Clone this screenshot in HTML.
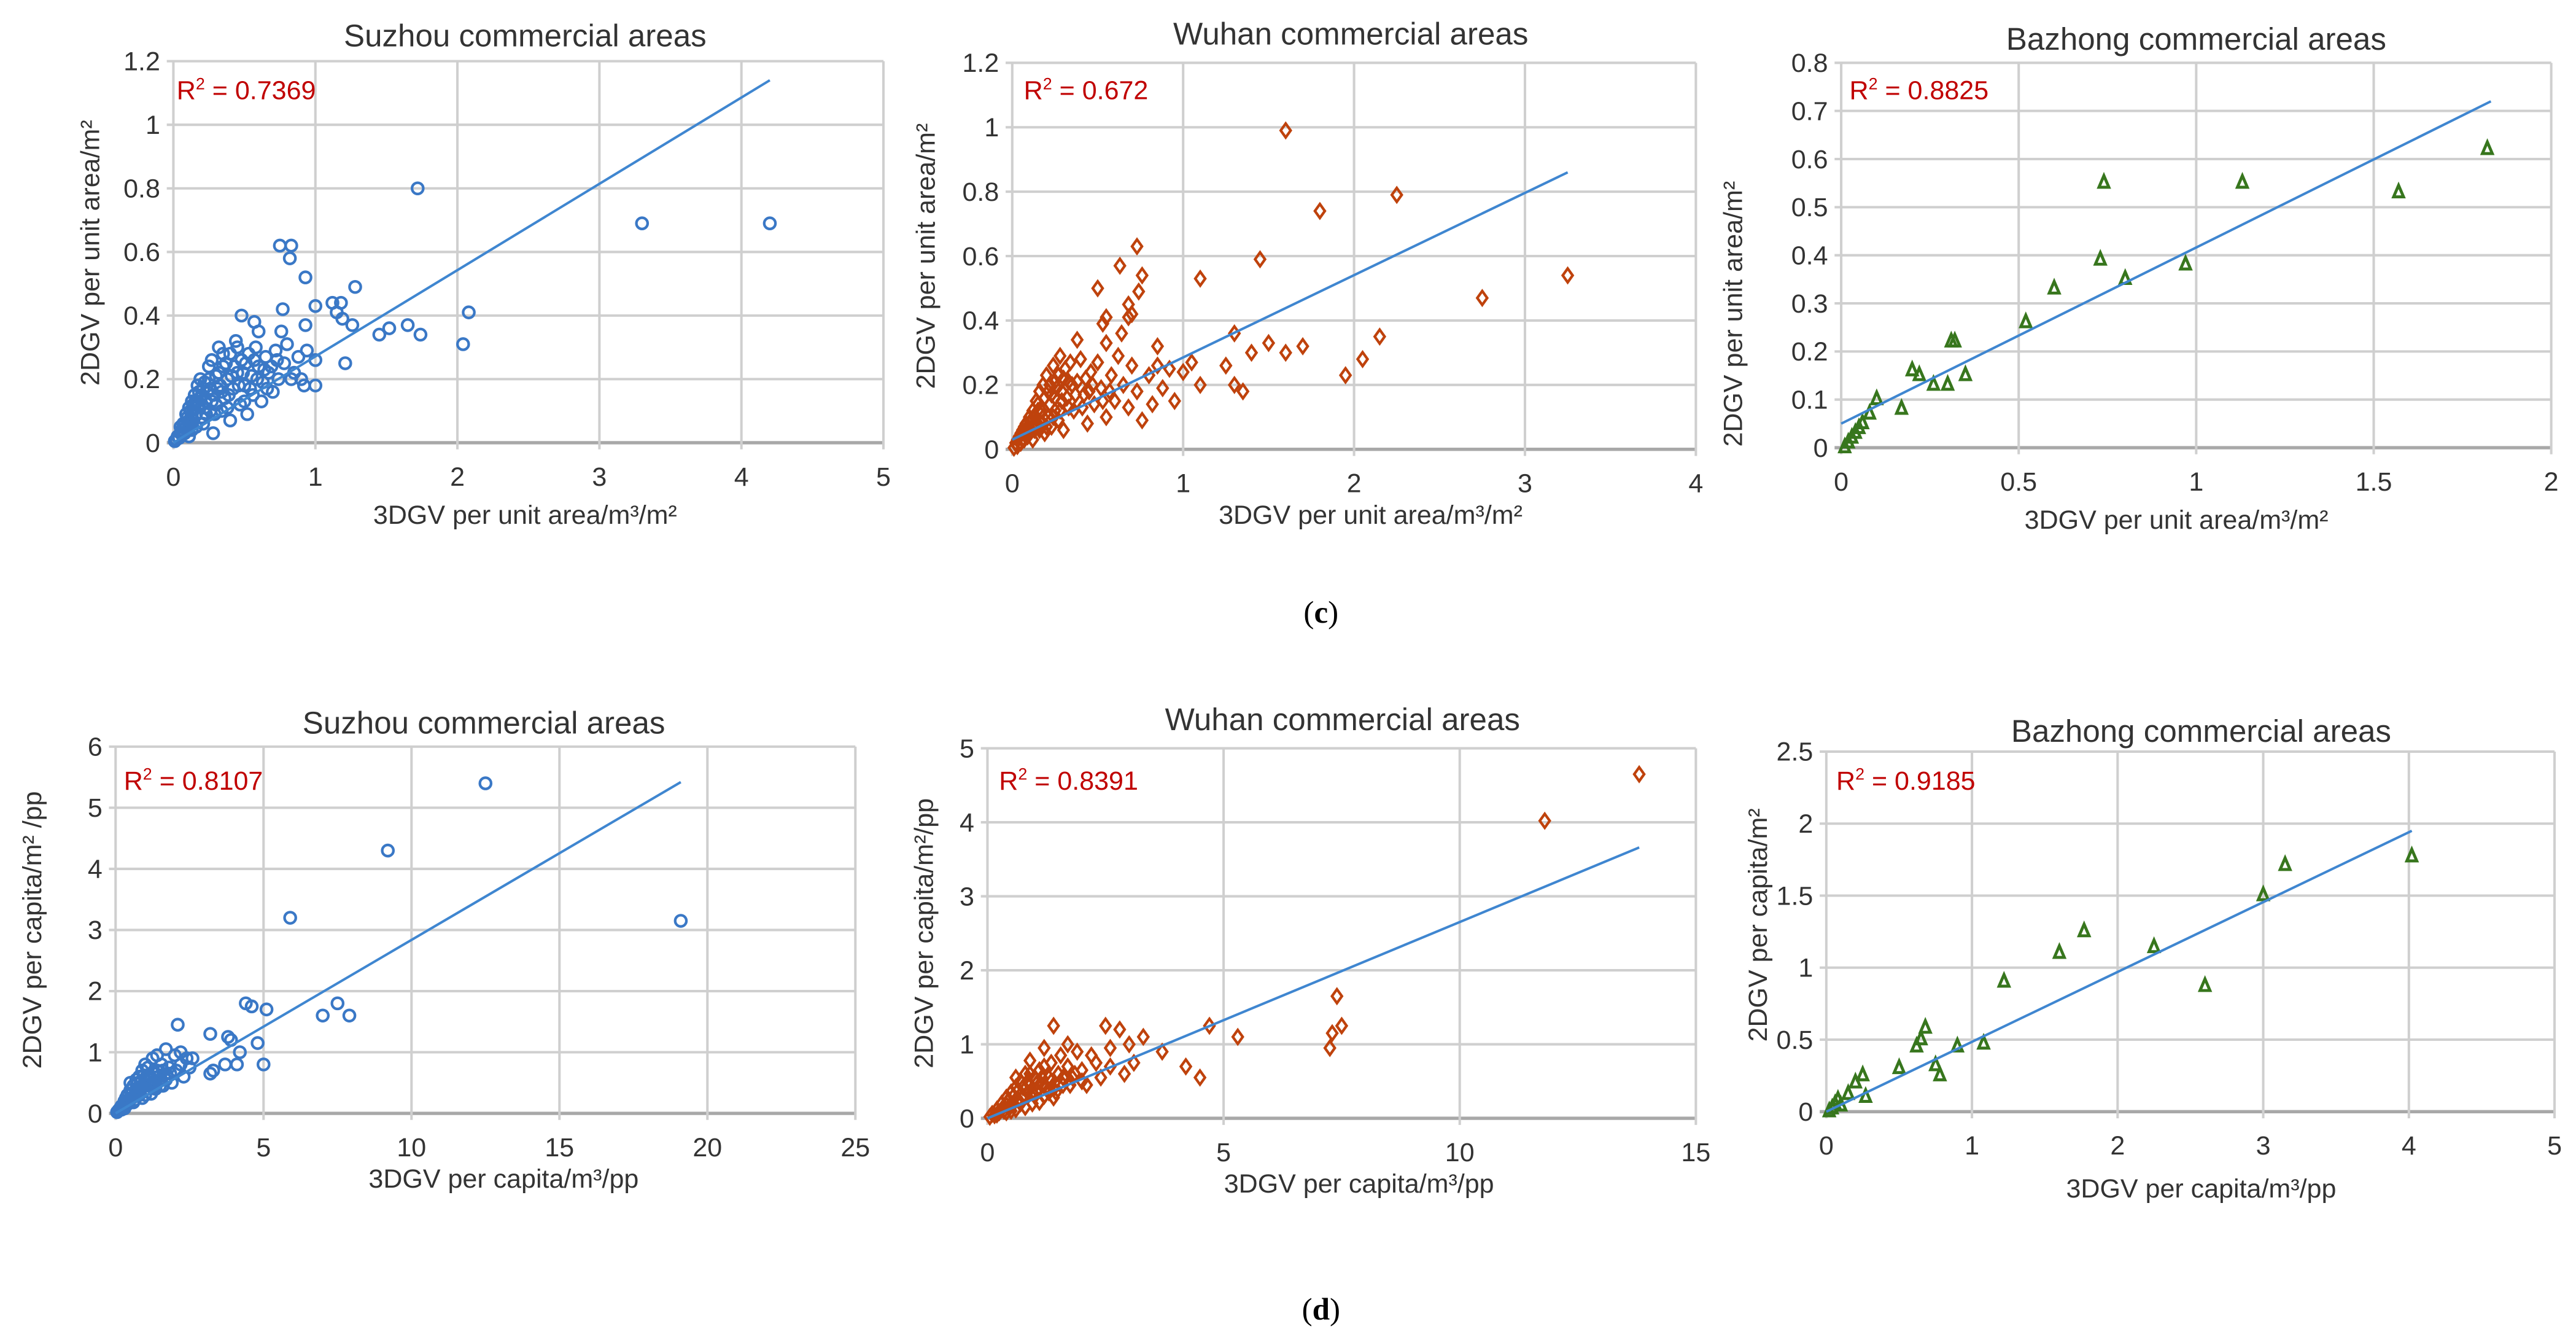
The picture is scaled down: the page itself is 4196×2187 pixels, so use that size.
<!DOCTYPE html>
<html><head><meta charset="utf-8"><style>
html,body{margin:0;padding:0;background:#fff;}
svg{display:block;font-family:"Liberation Sans",Arial,sans-serif;}
</style></head><body>
<svg id="fig" width="4196" height="2187" viewBox="0 0 1560 813" xmlns="http://www.w3.org/2000/svg">
<text x="800" y="377" font-family="Liberation Serif,serif" font-size="19" text-anchor="middle">(<tspan font-weight="bold">c</tspan>)</text>
<text x="800" y="799" font-family="Liberation Serif,serif" font-size="19" text-anchor="middle">(<tspan font-weight="bold">d</tspan>)</text>
</svg>
<script>
// ---- data ----
const suzhouAreaPoints=[[1.72,0.80],[3.3,0.69],[4.2,0.69],[0.75,0.62],[0.83,0.62],[0.82,0.58],[0.93,0.52],[1.28,0.49],[0.48,0.40],[0.77,0.42],[1.0,0.43],[1.12,0.44],[1.18,0.44],[1.15,0.41],[1.19,0.39],[2.08,0.41],[0.57,0.38],[0.93,0.37],[1.26,0.37],[1.45,0.34],[1.52,0.36],[1.65,0.37],[1.74,0.34],[2.04,0.31],[1.21,0.25],[0.94,0.29],[1.0,0.26],[1.0,0.18],[0.92,0.18],[0.83,0.2],
[0.01,0.005],[0.02,0.01],[0.03,0.02],[0.04,0.015],[0.05,0.03],[0.06,0.04],[0.07,0.03],[0.08,0.06],[0.09,0.05],[0.1,0.08],[0.1,0.04],[0.12,0.1],[0.12,0.06],[0.14,0.12],[0.14,0.07],[0.15,0.15],[0.16,0.09],[0.17,0.18],[0.18,0.12],[0.19,0.2],[0.2,0.08],[0.2,0.15],[0.22,0.19],[0.22,0.11],[0.24,0.16],[0.25,0.2],[0.26,0.1],[0.27,0.26],[0.28,0.03],[0.28,0.15],[0.3,0.21],[0.3,0.12],[0.32,0.3],[0.33,0.18],[0.35,0.24],[0.36,0.14],[0.38,0.2],[0.4,0.28],[0.4,0.07],[0.42,0.17],[0.44,0.32],[0.45,0.22],[0.47,0.12],[0.48,0.26],[0.5,0.18],[0.52,0.09],[0.53,0.28],[0.55,0.21],[0.56,0.15],[0.58,0.3],[0.6,0.24],[0.62,0.13],[0.63,0.19],[0.65,0.27],[0.67,0.22],[0.7,0.16],[0.72,0.29],[0.74,0.2],[0.76,0.35],[0.78,0.25],[0.8,0.31],[0.85,0.22],[0.88,0.27],[0.9,0.2],[0.6,0.35],[0.45,0.3],[0.35,0.28],[0.25,0.24],[0.11,0.02],[0.16,0.05],[0.21,0.06],[0.18,0.16],[0.23,0.13],[0.29,0.09],[0.34,0.1],[0.39,0.15],[0.43,0.24],[0.5,0.13],
[0.13,0.09],[0.15,0.11],[0.17,0.13],[0.19,0.14],[0.21,0.17],[0.23,0.09],[0.26,0.17],[0.27,0.13],[0.31,0.17],[0.32,0.22],[0.34,0.16],[0.37,0.25],[0.38,0.11],[0.41,0.21],[0.46,0.18],[0.49,0.22],[0.51,0.25],[0.54,0.17],[0.57,0.26],[0.59,0.2],[0.64,0.23],[0.66,0.17],[0.69,0.24],[0.73,0.26],[0.05,0.05],[0.07,0.06],[0.09,0.09],[0.11,0.11],[0.13,0.13],[0.08,0.03],[0.11,0.07],[0.13,0.04],[0.16,0.13],[0.2,0.12]];
const wuhanAreaPoints=[[1.6,0.99],[2.25,0.79],[1.8,0.74],[0.73,0.63],[1.45,0.59],[0.63,0.57],[0.76,0.54],[1.1,0.53],[0.74,0.49],[0.5,0.5],[0.68,0.45],[0.7,0.42],[0.55,0.41],[0.53,0.39],[0.68,0.41],[3.25,0.54],[2.75,0.47],[0.38,0.34],[0.55,0.33],[0.85,0.32],[0.64,0.36],[1.3,0.36],[1.5,0.33],[1.6,0.3],[1.7,0.32],[1.4,0.3],[2.15,0.35],[2.05,0.28],[1.95,0.23],[1.25,0.26],[1.3,0.2],[1.35,0.18],[1.05,0.27],[1.0,0.24],[0.85,0.26],[0.95,0.15],[1.1,0.2],
[0.01,0.005],[0.02,0.02],[0.03,0.01],[0.04,0.04],[0.05,0.02],[0.06,0.06],[0.07,0.03],[0.08,0.08],[0.09,0.04],[0.1,0.1],[0.1,0.05],[0.12,0.12],[0.12,0.03],[0.14,0.15],[0.14,0.08],[0.16,0.18],[0.16,0.06],[0.18,0.2],[0.18,0.1],[0.2,0.23],[0.2,0.07],[0.22,0.14],[0.24,0.26],[0.24,0.1],[0.26,0.19],[0.28,0.29],[0.28,0.12],[0.3,0.22],[0.3,0.06],[0.32,0.16],[0.34,0.27],[0.36,0.12],[0.38,0.21],[0.4,0.28],[0.42,0.17],[0.44,0.08],[0.46,0.24],[0.48,0.14],[0.5,0.27],[0.52,0.19],[0.55,0.1],[0.58,0.23],[0.6,0.15],[0.62,0.29],[0.65,0.2],[0.68,0.13],[0.7,0.26],[0.73,0.18],[0.76,0.09],[0.8,0.23],[0.82,0.14],[0.88,0.19],[0.92,0.25],[0.15,0.12],[0.25,0.16],[0.35,0.2],[0.45,0.18],[0.22,0.2],[0.33,0.13],[0.43,0.22],
[0.03,0.03],[0.05,0.05],[0.07,0.07],[0.09,0.07],[0.11,0.09],[0.13,0.1],[0.15,0.14],[0.17,0.12],[0.19,0.16],[0.21,0.18],[0.23,0.17],[0.25,0.21],[0.27,0.23],[0.29,0.18],[0.31,0.25],[0.33,0.21],[0.13,0.06],[0.17,0.08],[0.21,0.1],[0.25,0.12],[0.29,0.15],[0.37,0.17],[0.41,0.13],[0.47,0.2],[0.53,0.15],[0.57,0.18],[0.19,0.05],[0.23,0.07],[0.27,0.09],[0.08,0.05],[0.11,0.06],[0.06,0.03]];
const bazhongAreaPoints=[[0.01,0],[0.02,0.01],[0.03,0.02],[0.04,0.03],[0.05,0.04],[0.06,0.05],[0.08,0.07],[0.1,0.1],[0.17,0.08],[0.2,0.16],[0.22,0.15],[0.26,0.13],[0.3,0.13],[0.31,0.22],[0.32,0.22],[0.35,0.15],[0.52,0.26],[0.6,0.33],[0.73,0.39],[0.74,0.55],[0.8,0.35],[0.97,0.38],[1.13,0.55],[1.57,0.53],[1.82,0.62]];
const suzhouCapitaPoints=[[12.5,5.4],[9.2,4.3],[5.9,3.2],[19.1,3.15],[4.4,1.8],[4.6,1.75],[5.1,1.7],[7.0,1.6],[7.5,1.8],[7.9,1.6],[2.1,1.45],[3.2,1.3],[3.8,1.25],[3.9,1.2],[4.8,1.15],[4.2,1.0],[5.0,0.8],[3.7,0.8],[4.1,0.8],[3.3,0.7],[3.2,0.65],[2.6,0.9],[2.2,1.0],
[0.05,0.02],[0.1,0.05],[0.15,0.08],[0.2,0.12],[0.25,0.1],[0.3,0.2],[0.35,0.15],[0.4,0.3],[0.45,0.2],[0.5,0.38],[0.55,0.25],[0.6,0.45],[0.65,0.3],[0.7,0.55],[0.75,0.35],[0.8,0.6],[0.85,0.42],[0.9,0.7],[0.95,0.48],[1.0,0.3],[1.05,0.6],[1.1,0.75],[1.15,0.45],[1.2,0.55],[1.25,0.9],[1.3,0.65],[1.35,0.4],[1.4,0.7],[1.5,0.55],[1.55,0.8],[1.6,0.45],[1.7,1.05],[1.75,0.6],[1.8,0.75],[1.9,0.5],[2.0,0.95],[2.05,0.7],[2.2,0.8],[2.3,0.6],[2.4,0.9],[2.5,0.75],[0.3,0.08],[0.6,0.18],[0.9,0.25],[1.2,0.32],[0.5,0.5],[1.0,0.8],[1.4,0.95],
[0.2,0.06],[0.4,0.15],[0.55,0.32],[0.7,0.4],[0.85,0.5],[1.0,0.55],[1.15,0.62],[1.3,0.5],[1.45,0.6],[1.6,0.7],[1.7,0.55],[1.85,0.65],[0.65,0.22],[0.8,0.3],[1.05,0.4],[1.25,0.42],[1.5,0.45],[0.35,0.25],[0.75,0.5],[0.95,0.62]];
const wuhanCapitaPoints=[[13.8,4.65],[11.8,4.02],[7.4,1.65],[7.5,1.25],[7.3,1.15],[7.25,0.95],[4.7,1.25],[5.3,1.1],[4.5,0.55],[4.2,0.7],[3.7,0.9],[3.3,1.1],[2.8,1.2],[2.5,1.25],[1.4,1.25],[3.0,1.0],[2.6,0.95],[2.2,0.85],
[0.05,0.02],[0.1,0.06],[0.15,0.04],[0.2,0.12],[0.25,0.08],[0.3,0.2],[0.35,0.1],[0.4,0.28],[0.45,0.15],[0.5,0.35],[0.55,0.2],[0.6,0.42],[0.65,0.25],[0.7,0.5],[0.75,0.3],[0.8,0.6],[0.85,0.35],[0.9,0.45],[0.95,0.2],[1.0,0.55],[1.05,0.38],[1.1,0.65],[1.15,0.45],[1.2,0.3],[1.3,0.55],[1.35,0.75],[1.4,0.4],[1.5,0.6],[1.55,0.85],[1.6,0.45],[1.7,0.7],[1.8,0.55],[1.9,0.9],[2.0,0.65],[2.1,0.45],[2.3,0.75],[2.4,0.55],[2.6,0.7],[2.9,0.6],[3.1,0.75],[0.5,0.1],[0.8,0.15],[1.1,0.22],[1.4,0.28],[0.6,0.55],[0.9,0.78],[1.2,0.95],[1.7,1.0],
[0.2,0.05],[0.3,0.12],[0.4,0.18],[0.45,0.25],[0.55,0.3],[0.65,0.38],[0.75,0.42],[0.85,0.5],[0.95,0.35],[1.05,0.48],[1.15,0.55],[1.25,0.42],[1.35,0.5],[1.45,0.35],[1.6,0.55],[1.75,0.45],[1.85,0.6],[2.0,0.5],[0.7,0.2],[1.0,0.3],[1.3,0.35],[0.4,0.08],[0.6,0.12],[0.9,0.6],[1.2,0.7]];
const bazhongCapitaPoints=[[0.02,0],[0.04,0.02],[0.06,0.05],[0.08,0.08],[0.1,0.04],[0.15,0.12],[0.2,0.2],[0.25,0.25],[0.27,0.1],[0.5,0.3],[0.62,0.45],[0.65,0.5],[0.68,0.58],[0.75,0.32],[0.78,0.25],[0.9,0.45],[1.08,0.47],[1.22,0.9],[1.6,1.1],[1.77,1.25],[2.25,1.14],[2.6,0.87],[3.0,1.5],[3.15,1.71],[4.02,1.77]];
const trendLines=[[0,0,4.2,1.14],[0,0.03,3.25,0.86],[0,0.05,1.83,0.72],[0,0,19.1,5.42],[0,0,13.8,3.66],[0,0,4.02,1.95]];
const r2Labels=["0.7369","0.672","0.8825","0.8107","0.8391","0.9185"];
const chartTitles=["Suzhou commercial areas","Wuhan commercial areas","Bazhong commercial areas","Suzhou commercial areas","Wuhan commercial areas","Bazhong commercial areas"];

const NS="http://www.w3.org/2000/svg";
const svg=document.getElementById('fig');
function mk(tag,attrs,parent){const e=document.createElementNS(NS,tag);for(const k in attrs)e.setAttribute(k,attrs[k]);(parent||svg).appendChild(e);return e;}
const colors={blue:"#3a78c6",orange:"#bf420c",green:"#37761d"};
const charts=[
 {pts:suzhouAreaPoints,px0:105,px1:535,xmax:5,xstep:1,py0:268,py1:37,ymax:1.2,ystep:0.2,tx:318,ty:28,xtx:318,xty:317,ytx:60,yty:153,rx:107,ry:60,m:"circle",c:colors.blue,xt:"3DGV per unit area/m³/m²",yt:"2DGV per unit area/m²"},
 {pts:wuhanAreaPoints,px0:613,px1:1027,xmax:4,xstep:1,py0:272,py1:38,ymax:1.2,ystep:0.2,tx:818,ty:27,xtx:830,xty:317,ytx:566,yty:155,rx:620,ry:60,m:"diamond",c:colors.orange,xt:"3DGV per unit area/m³/m²",yt:"2DGV per unit area/m²"},
 {pts:bazhongAreaPoints,px0:1115,px1:1545,xmax:2,xstep:0.5,py0:271,py1:38,ymax:0.8,ystep:0.1,tx:1330,ty:30,xtx:1318,xty:320,ytx:1055,yty:190,rx:1120,ry:60,m:"triangle",c:colors.green,xt:"3DGV per unit area/m³/m²",yt:"2DGV per unit area/m²"},
 {pts:suzhouCapitaPoints,px0:70,px1:518,xmax:25,xstep:5,py0:674,py1:452,ymax:6,ystep:1,tx:293,ty:444,xtx:305,xty:719,ytx:25,yty:563,rx:75,ry:478,m:"circle",c:colors.blue,xt:"3DGV per capita/m³/pp",yt:"2DGV per capita/m² /pp"},
 {pts:wuhanCapitaPoints,px0:598,px1:1027,xmax:15,xstep:5,py0:677,py1:453,ymax:5,ystep:1,tx:813,ty:442,xtx:823,xty:722,ytx:565,yty:565,rx:605,ry:478,m:"diamond",c:colors.orange,xt:"3DGV per capita/m³/pp",yt:"2DGV per capita/m²/pp"},
 {pts:bazhongCapitaPoints,px0:1106,px1:1547,xmax:5,xstep:1,py0:673,py1:455,ymax:2.5,ystep:0.5,tx:1333,ty:449,xtx:1333,xty:725,ytx:1070,yty:560,rx:1112,ry:478,m:"triangle",c:colors.green,xt:"3DGV per capita/m³/pp",yt:"2DGV per capita/m²"}
];
charts.forEach((c,i)=>{
 const g=mk('g',{});
 
 
 const X=v=>c.px0+(c.px1-c.px0)*v/c.xmax, Y=v=>c.py0-(c.py0-c.py1)*v/c.ymax;
 const nx=Math.round(c.xmax/c.xstep), ny=Math.round(c.ymax/c.ystep);
 for(let k=0;k<=ny;k++){const v=k*c.ystep;
  const l=mk('line',{x1:c.px0-4,x2:c.px1,y1:Y(v),y2:Y(v),stroke:k==0?"#a8a8a8":"#cfcfcf","stroke-width":k==0?2:1.5},g);
  
  
  const t=mk('text',{x:c.px0-8,y:Y(v)+5.5,"text-anchor":"end","font-size":16,fill:"#333"},g);t.textContent=String(+v.toFixed(2));
  
  }
 for(let k=0;k<=nx;k++){const v=k*c.xstep;
  const l=mk('line',{x1:X(v),x2:X(v),y1:c.py1,y2:c.py0+4,stroke:"#cfcfcf","stroke-width":1.5},g);
  
  
  const t=mk('text',{x:X(v),y:c.py0+26,"text-anchor":"middle","font-size":16,fill:"#333"},g);t.textContent=String(+v.toFixed(2));
  
  }
 c.pts.forEach(p=>{const x=X(p[0]),y=Y(p[1]);let e;
  if(c.m=="circle")e=mk('circle',{cx:x,cy:y,r:3.4,fill:"none",stroke:c.c,"stroke-width":1.6},g);
  else if(c.m=="diamond")e=mk('path',{d:`M${x} ${y-4.2}L${x+3} ${y}L${x} ${y+4.2}L${x-3} ${y}Z`,fill:"none",stroke:c.c,"stroke-width":1.6},g);
  else e=mk('path',{d:`M${x} ${y-4.5}L${x+3} ${y+2.5}L${x-3} ${y+2.5}Z`,fill:"none",stroke:c.c,"stroke-width":1.8},g);
  
  });
 const tl=trendLines[i];
 const tr=mk('line',{x1:X(tl[0]),y1:Y(tl[1]),x2:X(tl[2]),y2:Y(tl[3]),stroke:"#3f86d0","stroke-width":1.5},g);
 
 
 const r=mk('text',{x:c.rx,y:c.ry,"font-size":16,fill:"#c00000"},g);r.innerHTML='R<tspan dy="-6" font-size="10">2</tspan><tspan dy="6"> = '+r2Labels[i]+'</tspan>';
 
 
 const ti=mk('text',{x:c.tx,y:c.ty,"text-anchor":"middle","font-size":19,fill:"#333"},g);ti.textContent=chartTitles[i];
 
 
 const xt=mk('text',{x:c.xtx,y:c.xty,"text-anchor":"middle","font-size":16,fill:"#333"},g);xt.textContent=c.xt;
 
 
 const yt=mk('text',{x:c.ytx,y:c.yty,"text-anchor":"middle","font-size":16,fill:"#333",transform:`rotate(-90 ${c.ytx} ${c.yty})`},g);yt.textContent=c.yt;
 
 
});
</script>
</body></html>
